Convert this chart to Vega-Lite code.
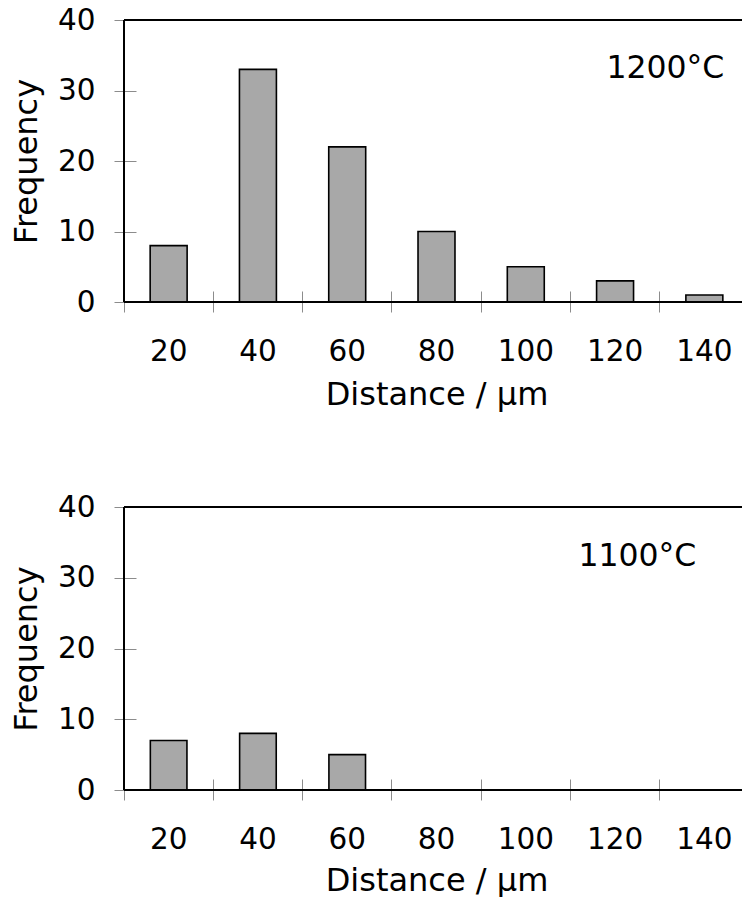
{
  "$schema": "https://vega.github.io/schema/vega-lite/v6.json",
  "padding": {"left": 10, "top": 5, "right": 0, "bottom": 0},
  "spacing": 81,
  "config": {
    "font": "DejaVu Sans",
    "view": {"stroke": null},
    "axis": {
      "grid": false,
      "domain": false,
      "tickColor": "#8c8c8c",
      "tickWidth": 1,
      "labelFont": "DejaVu Sans",
      "labelFontSize": 29.5,
      "labelColor": "black",
      "titleFont": "DejaVu Sans",
      "titleFontSize": 32,
      "titleFontWeight": "normal",
      "titleColor": "black"
    },
    "text": {"font": "DejaVu Sans"}
  },
  "datasets": {
    "t1200": [
      {"distance": 20, "frequency": 8},
      {"distance": 40, "frequency": 33},
      {"distance": 60, "frequency": 22},
      {"distance": 80, "frequency": 10},
      {"distance": 100, "frequency": 5},
      {"distance": 120, "frequency": 3},
      {"distance": 140, "frequency": 1}
    ],
    "t1100": [
      {"distance": 20, "frequency": 7},
      {"distance": 40, "frequency": 8},
      {"distance": 60, "frequency": 5},
      {"distance": 80, "frequency": 0},
      {"distance": 100, "frequency": 0},
      {"distance": 120, "frequency": 0},
      {"distance": 140, "frequency": 0}
    ]
  },
  "vconcat": [
    {
      "width": 618,
      "height": 282,
      "data": {"name": "t1200"},
      "encoding": {
        "x": {
          "field": "distance",
          "type": "ordinal",
          "scale": {"domain": [20, 40, 60, 80, 100, 120, 140], "range": [0, 625], "paddingInner": 0, "paddingOuter": 0},
          "axis": {"title": "Distance / µm", "labelAngle": 0, "offset": -11, "tickSize": 21, "bandPosition": 0, "labelPadding": 25, "titlePadding": 14}
        },
        "y": {
          "field": "frequency",
          "type": "quantitative",
          "scale": {"domain": [0, 40], "nice": false},
          "axis": {"title": "Frequency", "values": [0, 10, 20, 30, 40], "offset": -12, "tickSize": 22, "labelPadding": 19, "titlePadding": 14}
        }
      },
      "layer": [
        {"mark": {"type": "bar", "width": {"band": 0.414}, "fill": "#a8a8a8", "stroke": "black", "strokeWidth": 1.6}},
        {"mark": {"type": "rule", "color": "black", "strokeWidth": 1.5}, "encoding": {"x": null, "y": {"datum": 40}}},
        {"mark": {"type": "rule", "color": "black", "strokeWidth": 1.5}, "encoding": {"x": null, "y": {"datum": 0}}},
        {"mark": {"type": "rule", "color": "black", "strokeWidth": 1.5}, "encoding": {"x": {"datum": 20, "type": "ordinal", "bandPosition": 0}, "y": null}},
        {
          "transform": [{"filter": "datum.distance == 140"}],
          "mark": {"type": "text", "align": "right", "baseline": "middle", "fontSize": 31.5, "dx": 20, "color": "black"},
          "encoding": {"x": {"field": "distance", "type": "ordinal"}, "y": {"datum": 33}, "text": {"value": "1200°C"}}
        }
      ]
    },
    {
      "width": 618,
      "height": 283,
      "data": {"name": "t1100"},
      "encoding": {
        "x": {
          "field": "distance",
          "type": "ordinal",
          "scale": {"domain": [20, 40, 60, 80, 100, 120, 140], "range": [0, 625], "paddingInner": 0, "paddingOuter": 0},
          "axis": {"title": "Distance / µm", "labelAngle": 0, "offset": -11, "tickSize": 21, "bandPosition": 0, "labelPadding": 25, "titlePadding": 12}
        },
        "y": {
          "field": "frequency",
          "type": "quantitative",
          "scale": {"domain": [0, 40], "nice": false},
          "axis": {"title": "Frequency", "values": [0, 10, 20, 30, 40], "offset": -12, "tickSize": 22, "labelPadding": 19, "titlePadding": 14}
        }
      },
      "layer": [
        {"mark": {"type": "bar", "width": {"band": 0.41}, "fill": "#a8a8a8", "stroke": "black", "strokeWidth": 1.6}},
        {"mark": {"type": "rule", "color": "black", "strokeWidth": 1.5}, "encoding": {"x": null, "y": {"datum": 40}}},
        {"mark": {"type": "rule", "color": "black", "strokeWidth": 1.5}, "encoding": {"x": null, "y": {"datum": 0}}},
        {"mark": {"type": "rule", "color": "black", "strokeWidth": 1.5}, "encoding": {"x": {"datum": 20, "type": "ordinal", "bandPosition": 0}, "y": null}},
        {
          "transform": [{"filter": "datum.distance == 140"}],
          "mark": {"type": "text", "align": "right", "baseline": "middle", "fontSize": 31.5, "dx": -8, "color": "black"},
          "encoding": {"x": {"field": "distance", "type": "ordinal"}, "y": {"datum": 33}, "text": {"value": "1100°C"}}
        }
      ]
    }
  ]
}
